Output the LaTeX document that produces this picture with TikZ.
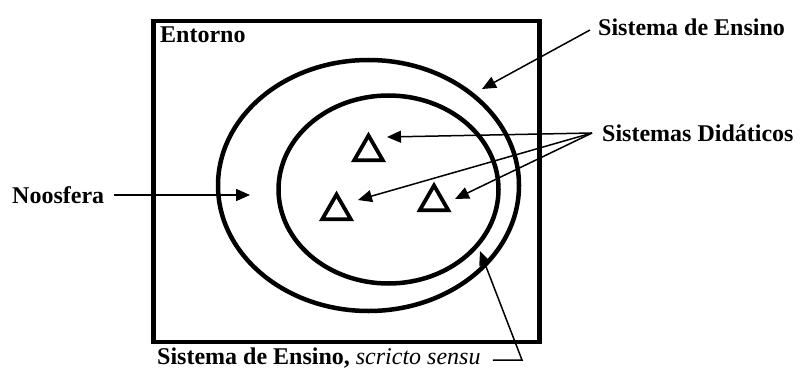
\documentclass[tikz,border=0pt]{standalone}
\usepackage{fontspec}
\setmainfont{Liberation Serif}
\usetikzlibrary{arrows.meta,shapes.geometric}
\begin{document}
\begin{tikzpicture}[x=1pt,y=-1pt,
  lbl/.style={font=\fontsize{24}{24}\selectfont\bfseries, inner sep=0pt, anchor=west},
  heavy/.style={draw, line width=4.5pt, inner sep=0pt},
  arr/.style={line width=1.5pt, -{Triangle[length=14pt,width=12pt]}},
  tri/.style={draw, regular polygon, regular polygon sides=3, minimum size=33pt, inner sep=0pt, line width=3.8pt}]
\useasboundingbox (0,0) rectangle (800,369);
% frame and ellipses
\node[heavy, minimum width=386pt, minimum height=321pt] (env) at (346.5,181.5) {};
\node[heavy, ellipse, minimum width=301pt, minimum height=251pt] (outer) at (368.5,185.5) {};
\node[heavy, ellipse, minimum width=220pt, minimum height=188pt] (inner) at (388.5,189.5) {};
% triangles
\node[tri] (t1) at (368.5,152) {};
\node[tri] (t2) at (336.5,211) {};
\node[tri] (t3) at (434,202) {};
% labels
\node[lbl] (entorno) at (160,35) {Entorno};
\node[lbl] (sde) at (598,27) {Sistema de Ensino};
\node[lbl] (sd) at (602,133) {Sistemas Didáticos};
\node[lbl] (noos) at (12,195) {Noosfera};
\node[lbl] (ss) at (157,358) {Sistema de Ensino, {\mdseries\itshape scricto sensu}};
% arrow tips
\coordinate (tipE) at (482,89);
\coordinate (tipA) at (387,137);
\coordinate (tipB) at (358,200);
\coordinate (tipC) at (455,199);
\coordinate (tipN) at (250,195);
\coordinate (tipS) at (480,251);
\coordinate (bend) at (522,360);
% arrows
\draw[arr] ([xshift=-8pt,yshift=-3pt]sde.west) -- (tipE);
\draw[arr] ([xshift=-10pt]sd.west) -- (tipA);
\draw[arr] ([xshift=-10pt]sd.west) -- (tipB);
\draw[arr] ([xshift=-10pt]sd.west) -- (tipC);
\draw[arr] ([xshift=10pt]noos.east) -- (tipN);
\draw[arr] ([xshift=12pt,yshift=-2pt]ss.east) -- (bend) -- (tipS);
\end{tikzpicture}
\end{document}
